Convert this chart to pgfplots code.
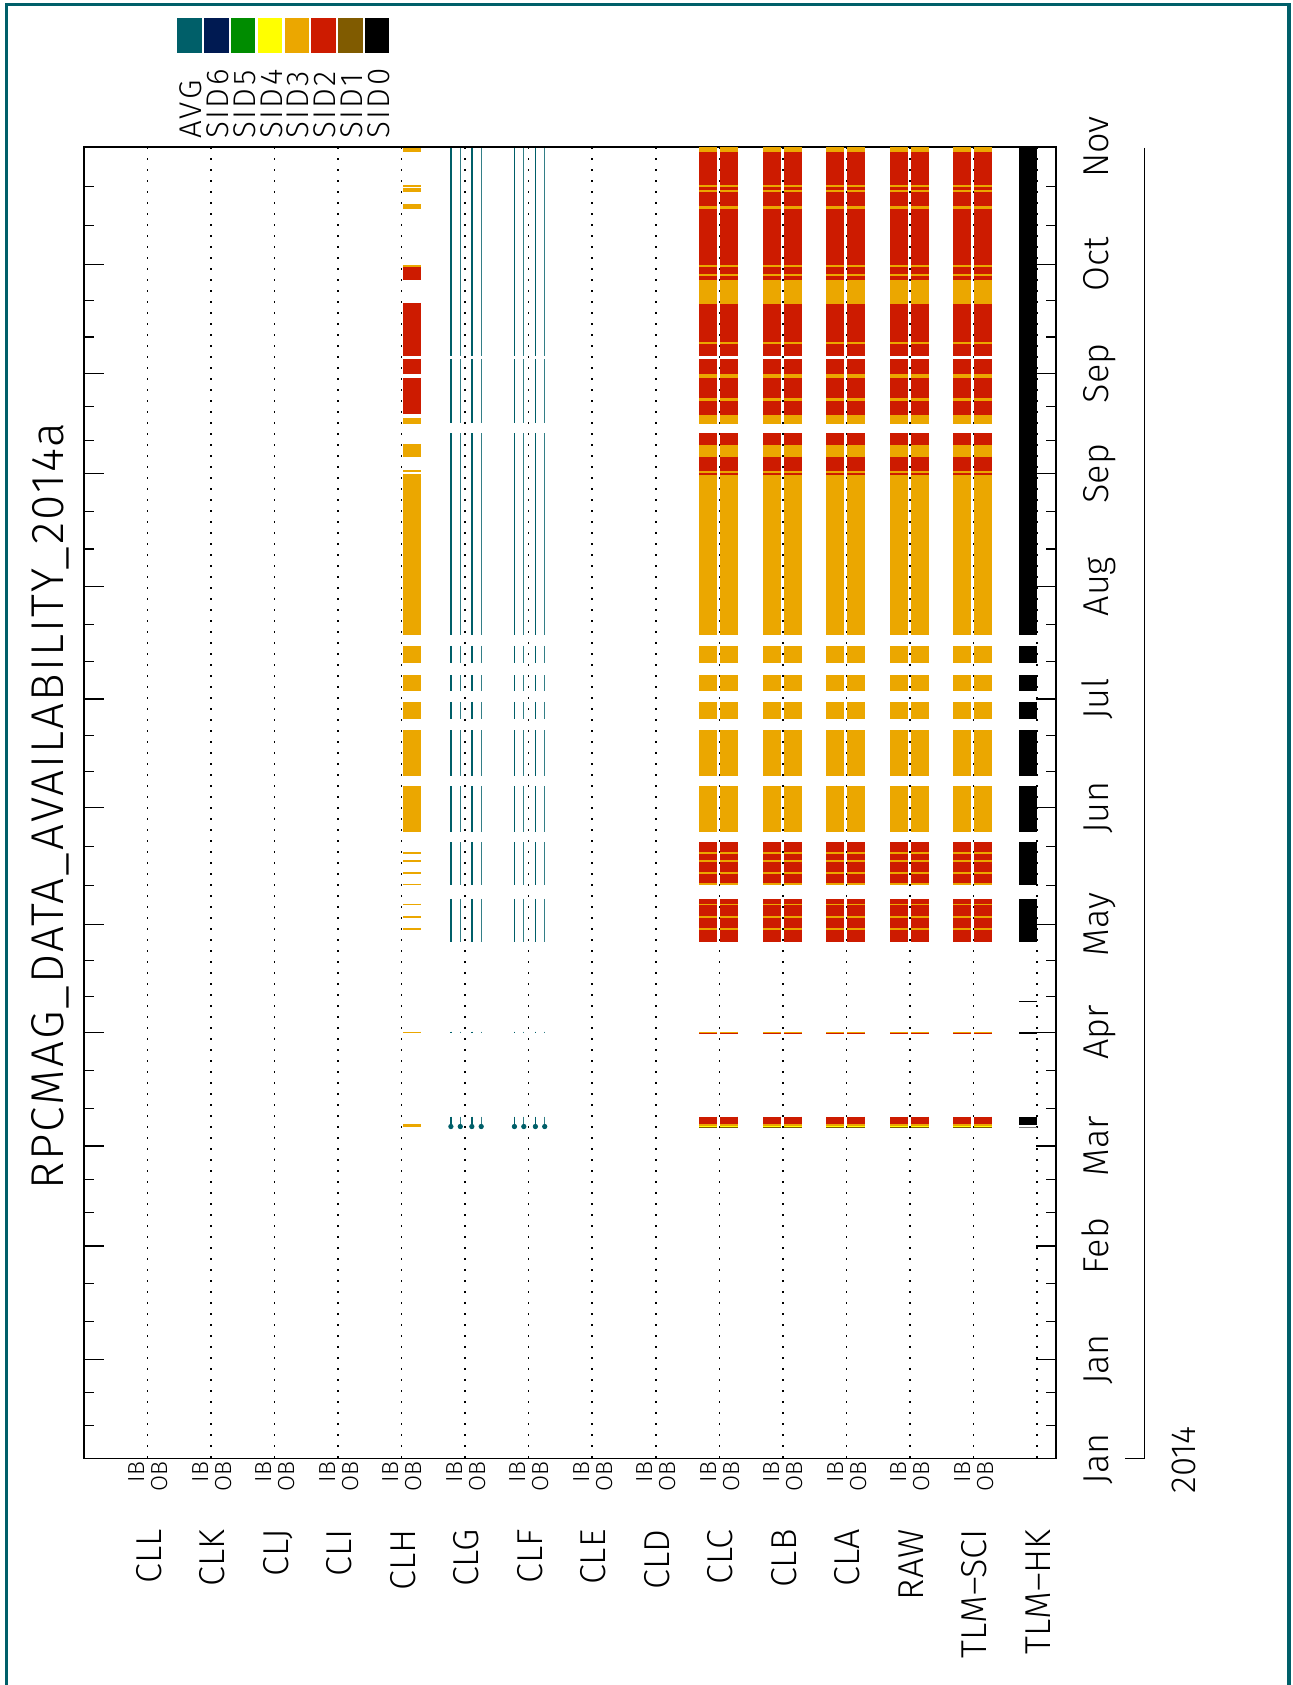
\documentclass[border=0pt]{standalone}
\usepackage{pgfplots}
\pgfplotsset{compat=1.18}
\usepackage{pgfplotstable}
\usepackage{fontspec}
\IfFontExistsTF{Fira Sans Light}{\setmainfont{Fira Sans Light}}{\setmainfont{DejaVu Sans}}
\definecolor{cAVG}{RGB}{0,95,105}
\definecolor{cS6}{RGB}{0,26,82}
\definecolor{cS5}{RGB}{0,140,0}
\definecolor{cS4}{RGB}{255,255,0}
\definecolor{cS3}{RGB}{235,167,0}
\definecolor{cS2}{RGB}{205,27,0}
\definecolor{cS1}{RGB}{128,91,0}
\definecolor{cS0}{RGB}{0,0,0}

% segments (start, end, nan) in pixel rows of the time axis
\pgfplotstableread[row sep=\\]{
y\\
147\\151.8\\nan\\ 185\\186.7\\nan\\ 190\\191.8\\nan\\ 206\\208.6\\nan\\
265.4\\267.1\\nan\\ 273.8\\275.5\\nan\\ 280\\304\\nan\\ 342\\344\\nan\\
374\\377.8\\nan\\ 398\\401\\nan\\ 414.8\\424\\nan\\ 444.7\\456.5\\nan\\
471.2\\473\\nan\\ 475\\634.5\\nan\\ 645.9\\663.2\\nan\\ 675\\691\\nan\\
701.9\\719.1\\nan\\ 730\\775.5\\nan\\ 786\\832\\nan\\ 852\\853.7\\nan\\
859.8\\861.6\\nan\\ 872\\873.7\\nan\\ 883.2\\885\\nan\\ 903.6\\905.4\\nan\\
916.2\\918\\nan\\ 927.9\\929.6\\nan\\ 1031.5\\1032.8\\nan\\ 1124.3\\1125.5\\nan\\
}\sciO
\pgfplotstableread[row sep=\\]{
y\\
151.8\\185\\nan\\ 186.7\\190\\nan\\ 191.8\\206\\nan\\ 208.6\\265.4\\nan\\
267.1\\273.8\\nan\\ 275.5\\280\\nan\\ 304\\342\\nan\\ 344\\355.5\\nan\\
358.9\\374\\nan\\ 377.8\\398\\nan\\ 401\\414.8\\nan\\ 433\\444.7\\nan\\
456.5\\471.2\\nan\\ 473\\475\\nan\\ 842\\852\\nan\\ 853.7\\859.8\\nan\\
861.6\\872\\nan\\ 873.7\\883.2\\nan\\ 898.8\\903.6\\nan\\ 905.4\\916.2\\nan\\
918\\927.9\\nan\\ 929.6\\941.8\\nan\\ 1032.8\\1034.1\\nan\\ 1116.5\\1124.3\\nan\\
}\sciR
\pgfplotstableread[row sep=\\]{
y\\ 1125.5\\1126.5\\nan\\
}\sciY
\pgfplotstableread[row sep=\\]{
y\\ 1126.5\\1127.5\\nan\\
}\sciB
\pgfplotstableread[row sep=\\]{
y\\
148.4\\151.8\\nan\\ 185\\186.7\\nan\\ 188.4\\191.8\\nan\\ 204.4\\208.6\\nan\\
265\\267.1\\nan\\ 417.8\\424\\nan\\ 443.9\\457.3\\nan\\ 470\\472\\nan\\
474.2\\634.5\\nan\\ 645.9\\663.2\\nan\\ 675\\691\\nan\\ 701.9\\719.1\\nan\\
730\\775.5\\nan\\ 786\\832\\nan\\ 852\\854.2\\nan\\ 859.8\\862\\nan\\
872\\873.7\\nan\\ 883.7\\885.4\\nan\\ 903.6\\905.4\\nan\\ 916.2\\918\\nan\\
927.9\\929.6\\nan\\ 1031.5\\1032.4\\nan\\ 1124.3\\1126.5\\nan\\
}\clhO
\pgfplotstableread[row sep=\\]{
y\\
267.1\\280.2\\nan\\ 302.9\\355.5\\nan\\ 358.9\\374\\nan\\ 377.8\\414.4\\nan\\
}\clhR
\pgfplotstableread[row sep=\\]{
y\\
148\\355.5\\nan\\ 358.9\\422.8\\nan\\ 433\\634.5\\nan\\ 645.9\\663.2\\nan\\
675\\691\\nan\\ 701.9\\719.1\\nan\\ 730\\775.5\\nan\\ 786\\832\\nan\\
842\\885\\nan\\ 898.8\\941.8\\nan\\ 1031.5\\1033\\nan\\ 1116.5\\1127\\nan\\
}\avgL
\pgfplotstableread[row sep=\\]{
y\\ 1126.5\\
}\avgM
\pgfplotstableread[row sep=\\]{
y\\
148\\634.5\\nan\\ 645.9\\663.2\\nan\\ 675\\691\\nan\\ 701.9\\719.1\\nan\\
730\\775.5\\nan\\ 786\\832\\nan\\ 842\\884.5\\nan\\ 898.8\\941.8\\nan\\
1000.5\\1001.5\\nan\\ 1032\\1034\\nan\\ 1116.5\\1125.2\\nan\\
}\hkK
\pgfplotstableread[row sep=\\]{
y\\ 1126.5\\1128\\nan\\
}\hkG

\newcommand\seg[4]{\addplot[draw=#3, line width=#4, forget plot] table[x expr=#1, y=y] {#2};}

\begin{document}
\begin{tikzpicture}
\useasboundingbox (0,0) rectangle (646pt,-842.5pt);
\begin{scope}[x=0.5pt,y=-0.5pt]
% outer border
\draw[cAVG, line width=1.6pt] (6.2,1685) -- (6.2,4.2) -- (1289,4.2) -- (1289,1685);
% title
\node[rotate=90, anchor=base, inner sep=0pt] at (63.3,806) {\fontsize{23}{25}\selectfont\addfontfeatures{LetterSpace=4.5}RPCMAG\_DATA\_AVAILABILITY\_2014a};
% legend squares
\foreach \c [count=\i from 0] in {cAVG,cS6,cS5,cS4,cS3,cS2,cS1,cS0} {
  \fill[\c] (177.3+26.8*\i,18) rectangle (201.8+26.8*\i,52.7);
}
\foreach \t [count=\i from 0] in {AVG,SID6,SID5,SID4,SID3,SID2,SID1,SID0} {
  \node[rotate=90, anchor=base west, inner sep=0pt] at (201.7+26.8*\i,139.3) {\fontsize{15.7}{17}\selectfont\addfontfeatures{LetterSpace=8}\t};
}
% category labels
\foreach \t [count=\i from 0] in {CLL,CLK,CLJ,CLI,CLH,CLG,CLF,CLE,CLD,CLC,CLB,CLA,RAW,TLM--SCI,TLM--HK} {
  \node[rotate=90, anchor=base east, inner sep=0pt] at (147.8+63.5*\i+13.5,1529) {\fontsize{18}{20}\selectfont \t};
}
\foreach \i in {0,...,13} {
  \node[rotate=90, anchor=base east, inner sep=0pt] at (147.8+63.5*\i-3,1461.5) {\fontsize{11.6}{13}\selectfont IB};
  \node[rotate=90, anchor=base east, inner sep=0pt] at (147.8+63.5*\i+20,1461.5) {\fontsize{11.6}{13}\selectfont OB};
}
% month labels
\foreach \m/\y in {Nov/147,Oct/264.3,Sep/373.2,Sep/473.7,Aug/586.6,Jul/699,Jun/807.5,May/924.6,Apr/1032.5,Mar/1145.9,Feb/1246,Jan/1359.4,Jan/1458.6} {
  \node[rotate=90, anchor=base, inner sep=0pt] at (1108,\y) {\fontsize{18}{20}\selectfont \m};
}
\node[rotate=90, anchor=base, inner sep=0pt] at (1195,1460) {\fontsize{17.4}{19}\selectfont 2014};
\draw[line width=0.6pt] (1144.5,148) -- (1144.5,1458.6) -- (1125,1458.6);
\end{scope}

\begin{axis}[
  at={(42pt,-729.3pt)}, anchor=south west,
  scale only axis, width=486pt, height=655.8pt,
  xmin=-1, xmax=14.3, ymin=147, ymax=1458.6, y dir=reverse,
  axis line style={line width=0.7pt},
  xtick=\empty,
  ytick={147,264.3,373.2,473.7,586.6,699,807.5,924.6,1032.5,1145.9,1246,1359.4,1458.6},
  minor ytick={186.1,225.2,300.6,336.9,406.7,440.2,511.3,548.9,624.1,661.5,735.2,771.3,846.5,885.6,960.6,996.5,1070.3,1108.1,1179.3,1212.6,1283.8,1321.6,1392.5,1425.5},
  yticklabels={},
  ytick pos=both, tick align=inside,
  major tick length=10pt, minor tick length=5pt,
  tick style={black, line width=0.6pt},
  unbounded coords=jump,
]
% dotted category lines
\pgfplotsinvokeforeach{0,...,14}{
  \addplot[black, line width=0.75pt, dash pattern=on 1pt off 4.5pt, forget plot] coordinates {(#1,147) (#1,1458.6)};
}
% CLC, CLB, CLA, RAW, TLM-SCI (IB and OB)
\foreach \k in {9,10,11,12,13} {
  \foreach \o in {-0.178,0.155} {
    \seg{\k+\o}{\sciO}{cS3}{9pt}
    \seg{\k+\o}{\sciR}{cS2}{9pt}
    \seg{\k+\o}{\sciY}{cS4}{9pt}
    \seg{\k+\o}{\sciB}{cS1}{9pt}
  }
}
% CLH (OB)
\seg{4.16}{\clhO}{cS3}{9pt}
\seg{4.16}{\clhR}{cS2}{9pt}
% CLG, CLF averages
\foreach \k in {5,6} {
  \seg{\k-0.225}{\avgL}{cAVG}{0.65pt}
  \seg{\k-0.077}{\avgL}{cAVG!80}{0.65pt}
  \seg{\k+0.105}{\avgL}{cAVG}{0.65pt}
  \seg{\k+0.252}{\avgL}{cAVG!80}{0.65pt}
  \foreach \o in {-0.225,-0.077,0.105,0.252} {
    \addplot[only marks, mark=*, mark size=1.1pt, cAVG, forget plot] table[x expr=\k+\o, y=y] {\avgM};
  }
}
% TLM-HK
\seg{14-0.14}{\hkK}{cS0}{8.85pt}
\seg{14-0.14}{\hkG}{gray}{8.85pt}
\end{axis}
\end{tikzpicture}
\end{document}
